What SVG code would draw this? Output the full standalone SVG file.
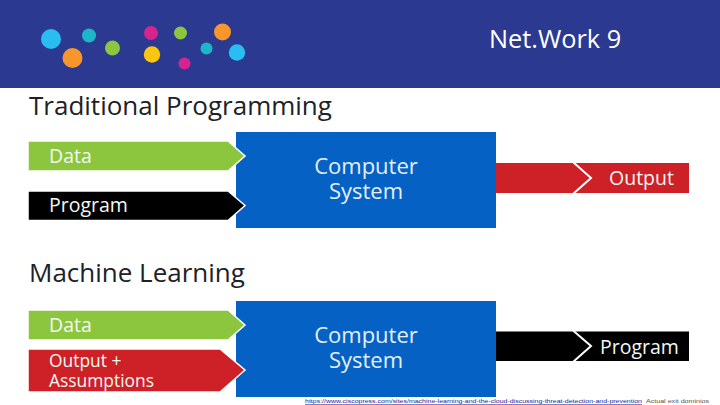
<svg xmlns="http://www.w3.org/2000/svg" width="720" height="405" viewBox="0 0 720 405">
<style>
.t{font-family:"Open Sans","Noto Sans",sans-serif}
.h{font-size:26px;fill:#1c2226}
.l{font-size:19.500px;fill:#f4f8f4;font-weight:500}
.s{font-size:17.400px}
.c{font-size:22px;fill:#e4effa;text-anchor:middle;font-weight:500}
.e{stroke:#fff;stroke-width:2;fill:none}
.a{stroke:#fff;stroke-width:1.500}
.b{fill:#0561c4}
</style>
<rect width="720" height="405" fill="#fff"/>
<rect width="720" height="88" fill="#2b3990"/>
<g id="logo">
<circle cx="51" cy="39" r="10" fill="#29bdf2"/><circle cx="89" cy="35.500" r="7" fill="#1fb5c9"/><circle cx="72.500" cy="58" r="10" fill="#f7962a"/><circle cx="112.500" cy="48" r="7.500" fill="#8cc63f"/>
<circle cx="151" cy="33" r="7" fill="#d6248f"/><circle cx="152" cy="54.500" r="8.200" fill="#fcc60f"/><circle cx="180.500" cy="33" r="6.500" fill="#8cc63f"/><circle cx="184.500" cy="63.500" r="6" fill="#d6248f"/><circle cx="206.500" cy="48.500" r="6" fill="#1fb5c9"/><circle cx="222.500" cy="32" r="8.500" fill="#f7962a"/><circle cx="237" cy="52.500" r="8.200" fill="#29bdf2"/>
</g>
<text class="t" x="489" y="48" font-size="25.300" fill="#fff">Net.Work 9</text>
<text class="t h" x="29" y="115">Traditional Programming</text>
<text class="t h" x="29" y="282">Machine Learning</text>
<g id="system1"><rect class="b" x="236" y="132" width="260" height="96"/><text class="t c" x="366" y="174"><tspan>Computer</tspan><tspan x="366" dy="25">System</tspan></text></g>
<g id="system2"><rect class="b" x="236" y="301" width="260" height="96"/><text class="t c" x="366" y="343"><tspan>Computer</tspan><tspan x="366" dy="25">System</tspan></text></g>
<g id="connectors">
<path d="M496 163H689V193H496Z" fill="#ce2027"/>
<path class="e" d="M573 162L591 178 573 194"/>
<path d="M496 331.500H689V361H496Z" fill="#000"/>
<path class="e" d="M573 330.500L591 346 573 362"/>
</g>
<g id="data1"><path class="a" d="M28 141H228L245 156 228 171H28Z" fill="#8cc63f"/><text class="t l" x="49" y="163">Data</text></g>
<g id="program1"><path class="a" d="M28 191H228L245 205.500 228 220.500H28Z" fill="#000"/><text class="t l" x="49" y="212">Program</text></g>
<g id="output1"><text class="t l" x="609" y="185">Output</text></g>
<g id="data2"><path class="a" d="M28 310H228L245 325 228 340H28Z" fill="#8cc63f"/><text class="t l" x="49" y="332">Data</text></g>
<g id="assumptions"><path class="a" d="M28 349H220L245 370 220 392H28Z" fill="#ce2027"/><text class="t l s" x="49" y="367"><tspan>Output +</tspan><tspan x="49" dy="19.500">Assumptions</tspan></text></g>
<g id="program2"><text class="t l" x="600" y="354">Program</text></g>
<text x="305" y="403" font-family="Liberation Sans,sans-serif" font-size="5.500" fill="#1a1a9c" text-decoration="underline" textLength="337" lengthAdjust="spacingAndGlyphs">https://www.ciscopress.com/sites/machine-learning-and-the-cloud-discussing-threat-detection-and-prevention</text>
<text x="646" y="403" font-family="Liberation Sans,sans-serif" font-size="5.500" fill="#555" textLength="63" lengthAdjust="spacingAndGlyphs">Actual exit dominios</text>
</svg>
